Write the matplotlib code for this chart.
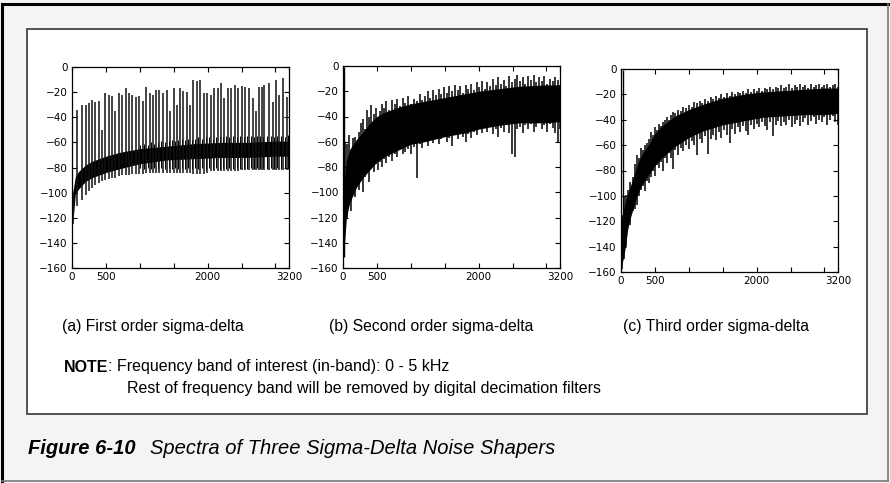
import numpy as np
import matplotlib
matplotlib.use('Agg')
import matplotlib.pyplot as plt
from matplotlib.patches import Rectangle
from matplotlib.lines import Line2D

plt.rcParams['font.family'] = ['Liberation Sans', 'DejaVu Sans']

# ---- data (frequency as on the axis, level in dB) ----
xticks = [0, 500, 1000, 1500, 2000, 2500, 3000, 3200]
xtick_labels = ['0', '500', '', '', '2000', '', '', '3200']
yticks = [0, -20, -40, -60, -80, -100, -120, -140, -160]

# (a) first order: dense band + regular spurious tones
core_a_f = [10, 50, 100, 200, 300, 500, 700, 1000, 1400, 1800, 2200, 2600, 3000, 3200]
core_a_hi = [-100, -87, -83, -78, -75, -71, -68, -65, -63, -61, -60, -60, -59, -59]
core_a_lo = [-125, -101, -97, -91, -88, -84, -81, -77, -74, -73, -72, -72, -71, -71]

spikes_a_f = [12, 79, 143, 200, 253, 302, 346, 400, 447, 494,
              547, 587, 636, 686, 735, 789, 843, 892, 942, 991,
              1040, 1090, 1149, 1188, 1242, 1287, 1346, 1405, 1450, 1499,
              1543, 1593, 1642, 1691, 1740, 1790, 1840, 1889, 1948, 1992,
              2046, 2100, 2155, 2199, 2243, 2298, 2347, 2401, 2455, 2510,
              2554, 2613, 2667, 2711, 2756, 2796, 2835, 2899, 2958, 3002,
              3057, 3106, 3170]
spikes_a_top = [-100, -34, -30, -30, -29, -26, -28, -27, -50, -21,
                -22, -23, -35, -21, -22, -17, -21, -22, -24, -23,
                -27, -16, -21, -22, -18, -18, -21, -18, -35, -17,
                -30, -17, -19, -20, -30, -10, -11, -10, -21, -21,
                -22, -17, -17, -13, -25, -17, -17, -14, -17, -15,
                -16, -17, -25, -35, -16, -16, -14, -13, -28, -10,
                -22, -9, -24]
spikes_a_bot = [-125, -111, -106, -102, -99, -96, -94, -92, -91, -90,
                -89, -88, -88, -87, -86, -86, -86, -85, -85, -85,
                -85, -84, -84, -84, -84, -84, -84, -84, -84, -84,
                -84, -84, -84, -84, -84, -85, -85, -85, -85, -84,
                -83, -83, -83, -83, -83, -83, -83, -83, -83, -82,
                -82, -82, -82, -82, -82, -82, -82, -82, -82, -82,
                -82, -82, -82]

minor_a_f = [1010, 1065, 1120, 1170, 1215, 1265, 1315, 1375, 1430, 1475,
             1520, 1570, 1620, 1665, 1715, 1765, 1815, 1865, 1920, 1970,
             2020, 2075, 2130, 2180, 2220, 2270, 2320, 2375, 2430, 2480,
             2530, 2585, 2640, 2690, 2735, 2775, 2815, 2870, 2930, 2980,
             3030, 3080, 3140, 3190]
minor_a_top = [-62, -61, -62, -60, -61, -60, -59, -60, -59, -58,
               -59, -58, -57, -58, -57, -58, -57, -56, -57, -56,
               -56, -57, -56, -55, -56, -55, -56, -55, -56, -55,
               -56, -55, -55, -56, -55, -55, -56, -55, -55, -56,
               -55, -55, -56, -54]
minor_a_bot = [-80, -81, -80, -81, -80, -81, -80, -81, -80, -81,
               -80, -81, -80, -81, -80, -81, -80, -81, -80, -81,
               -80, -81, -80, -81, -80, -81, -80, -81, -80, -81,
               -80, -81, -80, -81, -80, -81, -80, -81, -80, -81,
               -80, -81, -80, -81]

# (b) second order
tone_b = (15, -151, -1)
core_b_f = [10, 50, 100, 150, 200, 300, 400, 500, 600, 800, 1000, 1200, 1500, 1800, 2000, 2300, 2600, 3000, 3200]
core_b_hi = [-95, -75, -66, -62, -58, -52, -45, -40, -37, -33, -30, -28, -25, -22, -20, -18, -16, -15, -15]
core_b_lo = [-150, -120, -108, -102, -96, -88, -82, -76, -72, -67, -62, -60, -56, -53, -50, -47, -45, -45, -44]

spikes_b_f = [30, 60, 90, 120, 150, 180, 210, 240, 270, 300,
              330, 360, 390, 420, 450, 480, 510, 540, 570, 600,
              640, 680, 720, 760, 800, 840, 880, 920, 960, 1000,
              1040, 1090, 1130, 1170, 1210, 1250, 1290, 1330, 1370, 1410,
              1450, 1490, 1530, 1570, 1610, 1650, 1690, 1730, 1770, 1810,
              1850, 1890, 1930, 1970, 2010, 2050, 2090, 2130, 2170, 2210,
              2250, 2290, 2330, 2370, 2410, 2450, 2490, 2530, 2570, 2610,
              2650, 2690, 2730, 2770, 2810, 2850, 2890, 2930, 2970, 3010,
              3050, 3090, 3130, 3170, 3200]
spikes_b_top = [-60, -62, -55, -70, -57, -56, -60, -52, -45, -42,
                -50, -35, -40, -31, -38, -33, -42, -36, -30, -33,
                -28, -35, -27, -30, -26, -32, -25, -29, -24, -30,
                -26, -28, -22, -27, -24, -20, -25, -19, -23, -18,
                -22, -17, -21, -16, -20, -15, -19, -16, -21, -15,
                -18, -14, -19, -13, -17, -12, -18, -13, -16, -10,
                -15, -9, -14, -11, -16, -8, -13, -10, -7, -12,
                -9, -14, -8, -11, -7, -13, -9, -12, -8, -14,
                -10, -12, -9, -11, -15]
spikes_b_bot = [-118, -120, -110, -115, -100, -104, -95, -98, -85, -100,
                -88, -84, -92, -80, -84, -78, -82, -76, -80, -74,
                -77, -72, -75, -70, -72, -66, -70, -68, -66, -70,
                -64, -89, -62, -65, -60, -63, -58, -61, -56, -62,
                -58, -55, -60, -57, -63, -55, -58, -52, -56, -60,
                -54, -57, -52, -55, -50, -53, -48, -52, -46, -54,
                -50, -56, -49, -52, -47, -53, -70, -72, -50, -48,
                -53, -47, -50, -46, -52, -48, -45, -50, -47, -52,
                -46, -49, -53, -60, -50]

# (c) third order
tone_c = (30, -135, -1)
core_c_f = [10, 40, 70, 100, 140, 200, 250, 300, 400, 500, 600, 800, 1000, 1200, 1500, 1800, 2100, 2400, 2700, 3000, 3200]
core_c_hi = [-118, -110, -103, -98, -92, -82, -74, -68, -60, -51, -45, -37, -32, -28, -23, -20, -18, -17, -16, -15, -15]
core_c_lo = [-155, -148, -138, -126, -117, -106, -98, -92, -84, -76, -70, -61, -54, -49, -44, -41, -38, -37, -36, -36, -35]

spikes_c_f = [20, 50, 80, 110, 140, 170, 200, 230, 260, 290,
              320, 350, 380, 410, 440, 470, 500, 530, 560, 590,
              620, 650, 680, 710, 740, 770, 800, 840, 880, 920,
              960, 1000, 1040, 1080, 1120, 1160, 1200, 1240, 1280, 1320,
              1360, 1400, 1440, 1480, 1520, 1560, 1600, 1640, 1680, 1720,
              1760, 1800, 1840, 1880, 1920, 1960, 2000, 2040, 2080, 2120,
              2160, 2200, 2240, 2280, 2320, 2360, 2400, 2440, 2480, 2520,
              2560, 2600, 2640, 2680, 2720, 2760, 2800, 2840, 2880, 2920,
              2960, 3000, 3040, 3080, 3120, 3160, 3195]
spikes_c_top = [-115, -100, -99, -95, -89, -85, -75, -68, -70, -62,
                -64, -60, -58, -55, -50, -52, -46, -48, -43, -45,
                -42, -40, -38, -40, -36, -34, -35, -32, -33, -30,
                -31, -28, -30, -26, -27, -25, -27, -24, -25, -22,
                -24, -21, -23, -20, -22, -19, -21, -18, -20, -18,
                -19, -17, -19, -16, -18, -16, -17, -15, -17, -15,
                -16, -14, -16, -14, -15, -13, -15, -14, -12, -15,
                -13, -14, -12, -14, -13, -15, -12, -14, -13, -12,
                -14, -13, -12, -14, -13, -12, -14]
spikes_c_bot = [-158, -150, -140, -120, -123, -112, -110, -107, -100, -95,
                -92, -96, -88, -90, -85, -80, -84, -76, -78, -73,
                -80, -70, -74, -66, -70, -79, -64, -68, -62, -65,
                -60, -63, -57, -60, -68, -55, -58, -53, -67, -55,
                -52, -56, -50, -54, -48, -52, -58, -47, -51, -46,
                -50, -45, -49, -52, -44, -47, -43, -46, -42, -45,
                -48, -42, -53, -44, -41, -45, -42, -44, -40, -46,
                -43, -40, -45, -42, -39, -44, -41, -38, -43, -40,
                -42, -38, -44, -40, -37, -42, -44]

captions = ['(a) First order sigma-delta', '(b) Second order sigma-delta', '(c) Third order sigma-delta']

# ---- figure ----
W, H = 890, 483
fig = plt.figure(figsize=(W / 100, H / 100), dpi=100)
fig.patch.set_facecolor('#f4f4f4')

def fx(px):
    return px / W

def fy(py):
    return 1 - py / H

# inner white box
fig.add_artist(Rectangle((fx(27), fy(414)), fx(840), 385 / H, transform=fig.transFigure,
                         facecolor='white', edgecolor='#444444', lw=1.3, zorder=0))
# outer frame
fig.add_artist(Line2D([fx(2), fx(2)], [fy(481), fy(4)], transform=fig.transFigure, color='black', lw=2.2))
fig.add_artist(Line2D([fx(2), fx(888)], [fy(4), fy(4)], transform=fig.transFigure, color='black', lw=2.2))
fig.add_artist(Line2D([fx(888), fx(888)], [fy(4), fy(481)], transform=fig.transFigure, color='#777777', lw=1.2))
fig.add_artist(Line2D([fx(2), fx(888)], [fy(481), fy(481)], transform=fig.transFigure, color='#777777', lw=1.2))

boxes = [(72, 67, 289, 268), (343, 66, 560, 268), (621, 69, 838, 272)]
axs = []
for (l, t, r, b) in boxes:
    ax = fig.add_axes([fx(l), fy(b), (r - l) / W, (b - t) / H])
    ax.set_xlim(0, 3200)
    ax.set_ylim(-160, 0)
    ax.set_xticks(xticks)
    ax.set_xticklabels(xtick_labels)
    ax.set_yticks(yticks)
    ax.tick_params(direction='in', length=3.5, width=0.8, top=True, right=True,
                   labelsize=7.5, pad=3, colors='black', labelfontfamily='DejaVu Sans')
    for s in ax.spines.values():
        s.set_linewidth(0.9)
    axs.append(ax)

lw = 1.1
ax = axs[0]
ax.fill_between(core_a_f, core_a_lo, core_a_hi, color='black', lw=0)
ax.vlines(minor_a_f, minor_a_bot, minor_a_top, color='black', lw=0.7)
ax.vlines(spikes_a_f, spikes_a_bot, spikes_a_top, color='#111111', lw=lw)

ax = axs[1]
ax.fill_between(core_b_f, core_b_lo, core_b_hi, color='black', lw=0)
ax.vlines(spikes_b_f, spikes_b_bot, spikes_b_top, color='black', lw=lw)
ax.vlines([tone_b[0]], [tone_b[1]], [tone_b[2]], color='black', lw=1.0)

ax = axs[2]
ax.fill_between(core_c_f, core_c_lo, core_c_hi, color='black', lw=0)
ax.vlines(spikes_c_f, spikes_c_bot, spikes_c_top, color='black', lw=lw)
ax.vlines([tone_c[0]], [tone_c[1]], [tone_c[2]], color='black', lw=1.0)

# captions under the panels
for cx, txt in zip([153, 431, 716], captions):
    fig.text(fx(cx), fy(326), txt, ha='center', va='center', fontsize=11.3)

fig.canvas.draw()
r = fig.canvas.get_renderer()

t1 = fig.text(fx(64), fy(367), 'NOTE', fontsize=11.5, fontweight='bold', va='center')
bb = t1.get_window_extent(r)
fig.text(bb.x1 / W, fy(367), ': Frequency band of interest (in-band): 0 - 5 kHz', fontsize=11.5, va='center')
fig.text(fx(127), fy(388), 'Rest of frequency band will be removed by digital decimation filters',
         fontsize=11.5, va='center')

t2 = fig.text(fx(28), fy(449), 'Figure 6-10', fontsize=14.5, fontweight='bold', style='italic', va='center')
bb = t2.get_window_extent(r)
fig.text(bb.x1 / W + fx(14), fy(449), 'Spectra of Three Sigma-Delta Noise Shapers', fontsize=14.5,
         style='italic', va='center')

fig.savefig('out.png', dpi=100, facecolor=fig.get_facecolor())
